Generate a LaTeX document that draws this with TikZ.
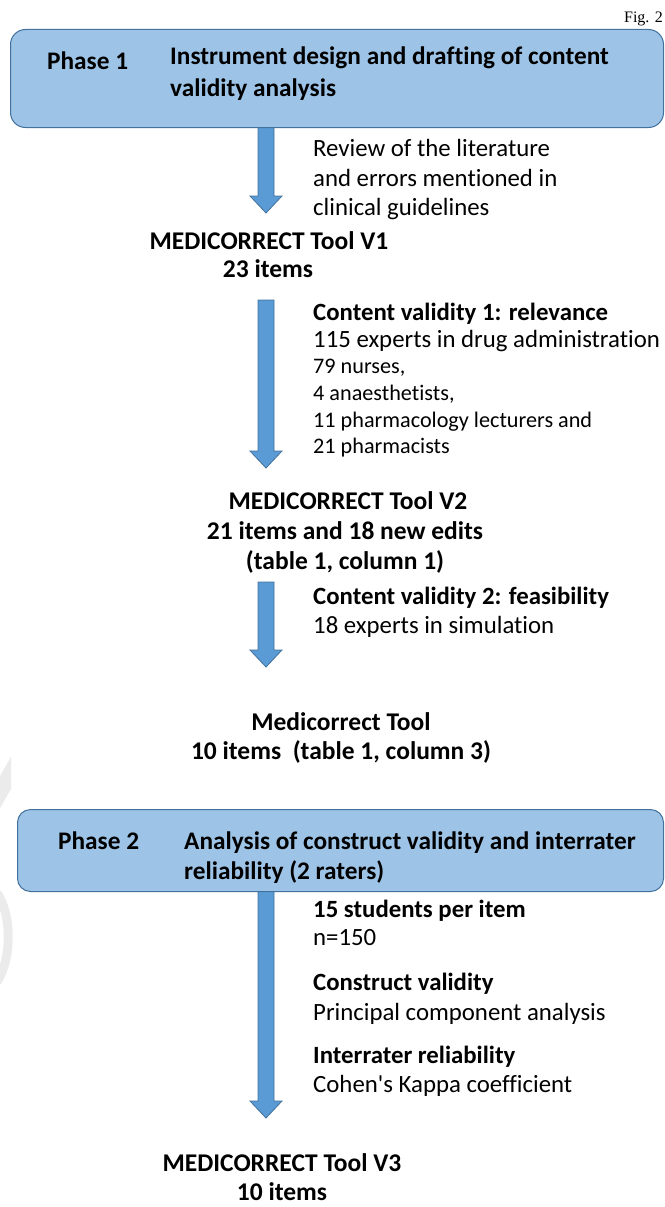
\documentclass[tikz,border=0pt]{standalone}
\usepackage{fontspec}
\setmainfont{Carlito}
\newfontfamily\calibri{Carlito}[Ligatures=NoCommon]
\newfontfamily\figfont{Liberation Serif}
\usetikzlibrary{calc}
\definecolor{boxfill}{HTML}{9DC3E6}
\definecolor{boxline}{HTML}{41719C}
\definecolor{arrfill}{HTML}{5B9BD5}
\definecolor{wmark}{HTML}{EBEBEB}
\tikzset{
  phasebox/.style={draw=boxline, fill=boxfill, line width=1pt, rounded corners=15pt, inner sep=0pt},
  txt/.style={inner sep=0pt, anchor=base west, font=\calibri\fontsize{24.8}{29}\selectfont},
  txtb/.style={txt, font=\calibri\fontsize{24.8}{29}\selectfont\bfseries},
  headb/.style={txt, font=\calibri\fontsize{25.3}{29}\selectfont\bfseries},
  small/.style={txt, font=\calibri\fontsize{22.2}{26}\selectfont},
  ctr/.style={inner sep=0pt, anchor=base, font=\calibri\fontsize{25.5}{29}\selectfont\bfseries},
  arrowstyle/.style={draw=boxline, fill=arrfill, line width=0.8pt, line join=miter}
}
\newcommand\bluearrow[2]{\draw[arrowstyle] let \p1=(#1), \p2=(#2) in
  (\x1-8pt,\y1) -- (\x1+8pt,\y1) -- (\x1+8pt,\y2+17pt) -- (\x1+16pt,\y2+17pt) --
  (\x1,\y2) -- (\x1-16pt,\y2+17pt) -- (\x1-8pt,\y2+17pt) -- cycle;}
\begin{document}
\begin{tikzpicture}[x=1pt,y=-1pt]
\useasboundingbox (0,0) rectangle (664,1207);
% watermark fragments
\fill[wmark] (0,776) -- (11,757) -- (11,789) -- (0,808) -- cycle;
\draw[wmark, line width=9pt] (-3,893) .. controls (12,915) and (12,958) .. (-3,982);
% figure label
\node[inner sep=0pt, anchor=base east, font=\figfont\fontsize{16}{18}\selectfont] (fig) at (663,23) {Fig. 2};
% arrows
\coordinate (a1s) at (266,127); \coordinate (a1e) at (266,213);
\coordinate (a2s) at (266,300); \coordinate (a2e) at (266,468);
\coordinate (a3s) at (266,582); \coordinate (a3e) at (266,667);
\coordinate (a4s) at (266,891); \coordinate (a4e) at (266,1118);
\bluearrow{a1s}{a1e}
\bluearrow{a2s}{a2e}
\bluearrow{a3s}{a3e}
\bluearrow{a4s}{a4e}
% phase 1
\node[phasebox, anchor=north west, minimum width=653pt, minimum height=98pt] (p1) at (10,29) {};
\node[headb] (p1a) at (47,70) {Phase 1};
\node[headb] (p1b) at (170,65) {Instrument design and drafting of content};
\node[headb] (p1c) at (170,96) {validity analysis};
% review
\node[txt] (r1) at (313,156) {Review of the literature};
\node[txt] (r2) at (313,186) {and errors mentioned in};
\node[txt] (r3) at (313,215) {clinical guidelines};
% V1
\node[ctr] (v1a) at (269,249) {MEDICORRECT Tool V1};
\node[ctr] (v1b) at (268,277) {23 items};
% content validity 1
\node[txtb] (c1) at (313,320) {Content validity 1: relevance};
\node[txt] (c2) at (313,347) {115 experts in drug administration};
\node[small] (c3) at (313,373) {79 nurses,};
\node[small] (c4) at (313,400) {4 anaesthetists,};
\node[small] (c5) at (313,427) {11 pharmacology lecturers and};
\node[small] (c6) at (313,453) {21 pharmacists};
% V2
\node[ctr] (v2a) at (348,509) {MEDICORRECT Tool V2};
\node[ctr] (v2b) at (345,539) {21 items and 18 new edits};
\node[ctr] (v2c) at (345,569) {(table 1, column 1)};
% content validity 2
\node[txtb] (d1) at (313,604) {Content validity 2: feasibility};
\node[txt] (d2) at (313,633) {18 experts in simulation};
% Medicorrect tool
\node[ctr] (m1) at (341,730) {Medicorrect Tool};
\node[ctr] (m2) at (341,759) {10 items\ \ (table 1, column 3)};
% phase 2
\node[phasebox, rounded corners=13pt, anchor=north west, minimum width=646pt, minimum height=82pt] (p2) at (17,809) {};
\node[headb] (p2a) at (58,849) {Phase 2};
\node[headb] (p2b) at (184,849) {Analysis of construct validity and interrater};
\node[headb] (p2c) at (184,879) {reliability (2 raters)};
% phase 2 details
\node[txtb] (s1) at (313,917) {15 students per item};
\node[txt] (s2) at (313,945) {n=150};
\node[txtb] (s3) at (313,990) {Construct validity};
\node[txt] (s4) at (313,1020) {Principal component analysis};
\node[txtb] (s5) at (313,1063) {Interrater reliability};
\node[txt] (s6) at (313,1092) {Cohen's Kappa coefficient};
% V3
\node[ctr] (v3a) at (282,1171) {MEDICORRECT Tool V3};
\node[ctr] (v3b) at (282,1200) {10 items};
\end{tikzpicture}
\end{document}
